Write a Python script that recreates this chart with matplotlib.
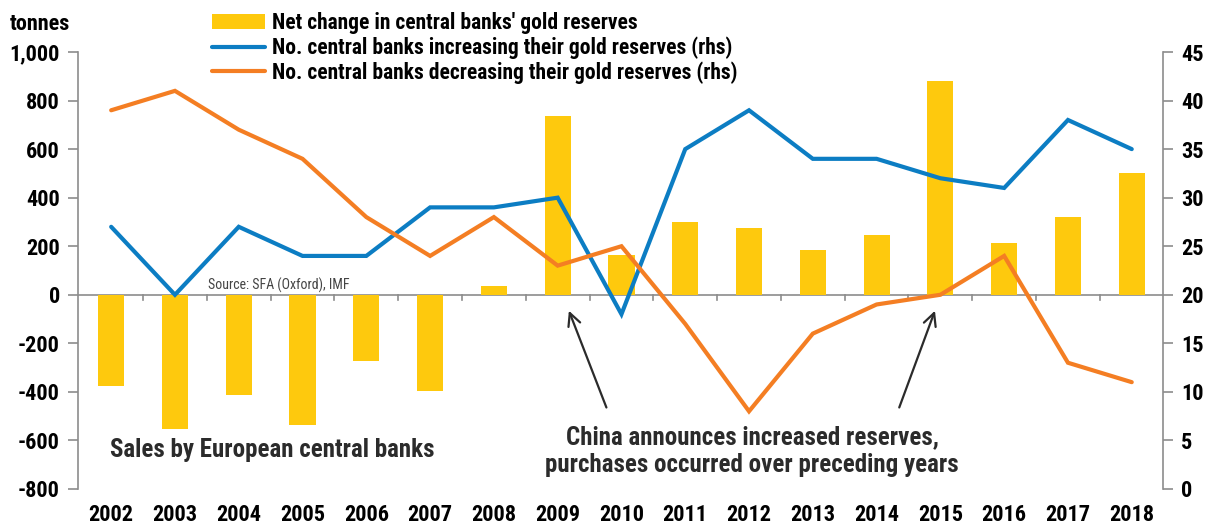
import matplotlib
matplotlib.use("Agg")
import matplotlib.pyplot as plt
from matplotlib import font_manager

years = [str(y) for y in range(2002, 2019)]
net_change = [-375, -553, -412, -536, -272, -396, 37, 738, 165, 300, 275, 185, 245, 880, 215, 320, 503]
increasing = [27, 20, 27, 24, 24, 29, 29, 30, 18, 35, 39, 34, 34, 32, 31, 38, 35]
decreasing = [39, 41, 37, 34, 28, 24, 28, 23, 25, 17, 8, 16, 19, 20, 24, 13, 11]
left_ticks = [-800, -600, -400, -200, 0, 200, 400, 600, 800, 1000]
left_labels = ["-800", "-600", "-400", "-200", "0", "200", "400", "600", "800", "1,000"]
right_ticks = [0, 5, 10, 15, 20, 25, 30, 35, 40, 45]

avail = sorted({f.name for f in font_manager.fontManager.ttflist})
cands = ["Roboto Condensed", "Liberation Sans Narrow", "Open Sans Condensed", "Noto Sans Condensed",
         "DejaVu Sans Condensed", "Arial Narrow"]
chosen = None
for c in cands:
    if c in avail:
        chosen = c
        break
fam = [chosen, "DejaVu Sans"] if chosen else ["Roboto", "DejaVu Sans"]
plt.rcParams['font.family'] = fam

GOLD = "#FEC90D"
BLUE = "#0C7DC3"
ORANGE = "#F47E23"
GRAY = "#8C8C8C"
TXT = "#2B2B2B"

fig = plt.figure(figsize=(12.15, 5.28), dpi=100)
ax = fig.add_axes([0.0642, 0.0739, 0.9572 - 0.0642, 0.9015 - 0.0739])
ax2 = ax.twinx()

x = list(range(len(years)))
bars = ax.bar(x, net_change, width=0.41, color=GOLD, zorder=2, label="Net change in central banks' gold reserves")
ax.set_ylim(-800, 1000)
ax.set_xlim(-0.52, 16.49)
ax2.set_ylim(0, 45)

l1, = ax2.plot(x, increasing, color=BLUE, lw=3.0, solid_capstyle='round', solid_joinstyle='miter',
               label="No. central banks increasing their gold reserves (rhs)", zorder=3)
l2, = ax2.plot(x, decreasing, color=ORANGE, lw=3.0, solid_capstyle='round', solid_joinstyle='miter',
               label="No. central banks decreasing their gold reserves (rhs)", zorder=3)

ax.axhline(0, color=GRAY, lw=1.2, zorder=1)

for a in (ax, ax2):
    for s in ("top", "bottom"):
        a.spines[s].set_visible(False)
    a.spines["left"].set_color(GRAY)
    a.spines["right"].set_color(GRAY)
    a.spines["left"].set_linewidth(1.2)
    a.spines["right"].set_linewidth(1.2)
ax2.spines["left"].set_visible(False)
ax.spines["right"].set_visible(False)

ax.set_yticks(left_ticks)
ax.set_yticklabels(left_labels, fontsize=16, fontweight='bold', color='black')
ax2.set_yticks(right_ticks)
ax2.set_yticklabels([str(t) for t in right_ticks], fontsize=16, fontweight='bold', color='black')
ax.tick_params(axis='y', length=7, width=1.2, color=GRAY, pad=6)
ax2.tick_params(axis='y', length=7, width=1.2, color=GRAY, pad=6)

ax.set_xticks(x)
ax.set_xticklabels(years, fontsize=16, fontweight='bold', color='black')
ax.tick_params(axis='x', length=0, pad=11)
for i in range(len(years) - 1):
    ax.plot([i + 0.5, i + 0.5], [0, -20], color=GRAY, lw=1.2, zorder=1)

fig.text(0.008, 0.955, "tonnes", fontsize=16, fontweight='bold', ha='left', va='center')

leg = fig.legend(handles=[bars, l1, l2], loc='upper left', bbox_to_anchor=(0.167, 0.993),
                 frameon=False, fontsize=15.5, handlelength=2.5, handletextpad=0.3,
                 labelspacing=0.1, borderaxespad=0)
for t in leg.get_texts():
    t.set_fontweight('bold')

ax.text(1.52, 6, "Source: SFA (Oxford), IMF", fontsize=10, color="#444444", ha='left', va='bottom', zorder=4)
ax.text(2.52, -640, "Sales by European central banks", fontsize=18, fontweight='bold', color=TXT,
        ha='center', va='center')
ax.text(10.05, -645, "China announces increased reserves,\npurchases occurred over preceding years",
        fontsize=18, fontweight='bold', color=TXT, ha='center', va='center', linespacing=1.2)

arrowprops = dict(arrowstyle='->,head_length=0.9,head_width=0.45', color=TXT, lw=1.6)
ax.annotate("", xy=(7.16, -55), xytext=(7.78, -475), arrowprops=arrowprops)
ax.annotate("", xy=(12.93, -55), xytext=(12.34, -475), arrowprops=arrowprops)

fig.savefig("out.png", dpi=100)
